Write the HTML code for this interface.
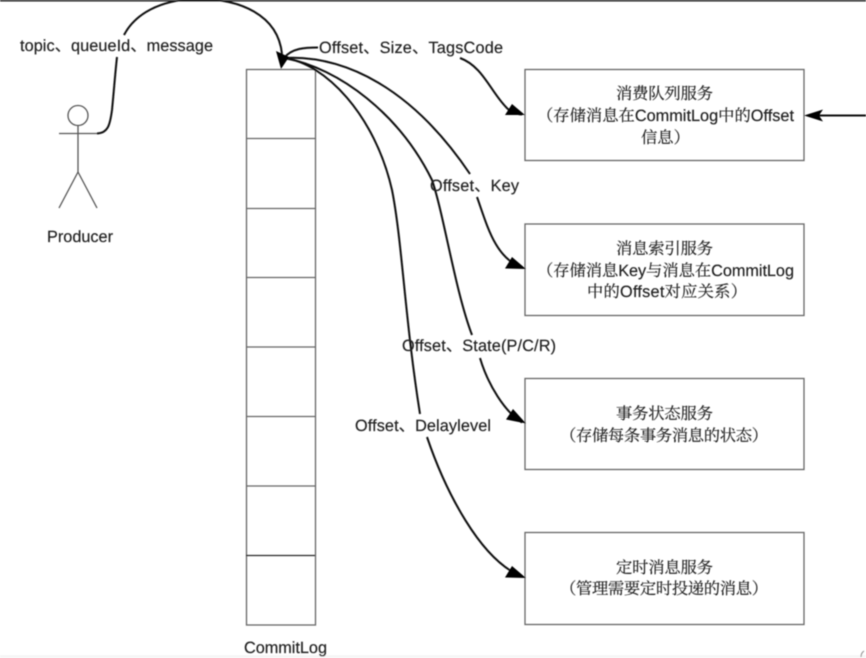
<!DOCTYPE html>
<html>
<head>
<meta charset="utf-8">
<style>
html,body{margin:0;padding:0;background:#fff;width:866px;height:658px;overflow:hidden}
svg{display:block}
text{font-family:"Liberation Sans","Noto Serif CJK SC",serif;font-size:16.3px;fill:#222;stroke:#222;stroke-width:.18;text-rendering:geometricPrecision}
.l text{font-family:"Liberation Sans","Noto Sans CJK SC",sans-serif;font-size:16.3px;fill:#222}
.b{fill:none;stroke:#666;stroke-width:1.3}
.c{fill:none;stroke:#111;stroke-width:2;stroke-linecap:butt}
</style>
</head>
<body>
<svg width="866" height="658" viewBox="0 0 866 658" xmlns="http://www.w3.org/2000/svg">
<defs><filter id="s" x="0" y="0" width="100%" height="100%"><feGaussianBlur stdDeviation="0.6"/></filter></defs>
<rect width="866" height="658" fill="#fff"/>
<g filter="url(#s)">
<rect x="0" y="655" width="866" height="3" fill="#f6f6f6"/>
<path d="M864,651 Q861,653 861,657" fill="none" stroke="#888" stroke-width="1"/>

<!-- CommitLog stack -->
<rect class="b" x="246.5" y="69.5" width="69" height="555.5"/>
<path class="b" d="M246,138.5H315M246,208.5H315M246,277.5H315M246,347H315M246,416.5H315M246,486H315"/>
<path d="M246,555.5H315" stroke="#222" stroke-width="1.3" fill="none"/>

<!-- Service boxes -->
<rect class="b" x="525" y="69.5" width="279" height="91"/>
<rect class="b" x="525" y="224" width="279" height="91.5"/>
<rect class="b" x="525" y="378.5" width="279" height="91"/>
<rect class="b" x="525" y="532.5" width="279" height="92"/>

<!-- Actor -->
<g fill="none" stroke="#555" stroke-width="1.3">
<circle cx="78" cy="115.5" r="10"/>
<path d="M59,133.5H98M78,125.5V172M78,172L59,208M78,172L97,208"/>
</g>

<!-- Connectors -->
<path class="c" d="M97,133.5C108,133 110,125 112,110C114,90 115,75 117,57"/>
<path class="c" d="M124,35C135,14 160,0 195,-1C240,-2 278,15 282,54"/>
<path class="c" d="M318,47.5C305,47.5 292,48 284,58"/>
<path class="c" d="M284,58C345,55 412,88 470,174"/>
<path class="c" d="M284,58C340,68 400,115 432,180C444,215 455,290 472,335"/>
<path class="c" d="M284,58C325,63 375,115 392,190C402,240 405,320 420,414"/>
<path class="c" d="M460,58C482,66 490,90 505,106C510,112 515,114 522,114.500"/>
<path class="c" d="M477,197C487,225 495,258 522,267.500"/>
<path class="c" d="M480,358C488,385 505,412 522,422.500"/>
<path class="c" d="M427,437C445,490 480,560 522,576.500"/>
<path class="c" d="M866,115.500H815"/>

<!-- Arrowheads -->
<g fill="#000">
<polygon points="276,51 289,57 281,69"/>
<polygon points="525,115 505,115 512,104"/>
<polygon points="526,269 505,268.500 512,257"/>
<polygon points="526,423.500 506,419.500 513,409"/>
<polygon points="526,578 505,577.500 512,566"/>
<polygon points="804,115.500 823,109.500 819,115.500 823,121.500"/>
</g>

<!-- Connector labels -->
<g class="l">
<text x="20" y="51" textLength="193" lengthAdjust="spacing">topic、queueId、message</text>
<text x="319" y="53" textLength="184" lengthAdjust="spacing">Offset、Size、TagsCode</text>
<text x="430" y="191" textLength="89" lengthAdjust="spacing">Offset、Key</text>
<text x="402" y="351" textLength="154" lengthAdjust="spacing">Offset、State(P/C/R)</text>
<text x="355" y="431" textLength="136" lengthAdjust="spacing">Offset、Delaylevel</text>
<text x="47" y="242" textLength="66" lengthAdjust="spacing">Producer</text>
<text x="244" y="653" textLength="83" lengthAdjust="spacing">CommitLog</text>
</g>

<!-- Box text -->
<text x="616" y="99" textLength="97" lengthAdjust="spacing">消费队列服务</text>
<text x="537" y="121" textLength="257" lengthAdjust="spacing">（存储消息在CommitLog中的Offset</text>
<text x="641" y="143">信息）</text>

<text x="616" y="254" textLength="97" lengthAdjust="spacing">消息索引服务</text>
<text x="537" y="276" textLength="257" lengthAdjust="spacing">（存储消息Key与消息在CommitLog</text>
<text x="587" y="297" textLength="160" lengthAdjust="spacing">中的Offset对应关系）</text>

<text x="616" y="419" textLength="97" lengthAdjust="spacing">事务状态服务</text>
<text x="560" y="441" textLength="208" lengthAdjust="spacing">（存储每条事务消息的状态）</text>

<text x="616" y="573" textLength="97" lengthAdjust="spacing">定时消息服务</text>
<text x="560" y="594" textLength="208" lengthAdjust="spacing">（管理需要定时投递的消息）</text>

<rect x="0" y="0" width="866" height="1.500" fill="#222"/>
</g>
</svg>
</body>
</html>
